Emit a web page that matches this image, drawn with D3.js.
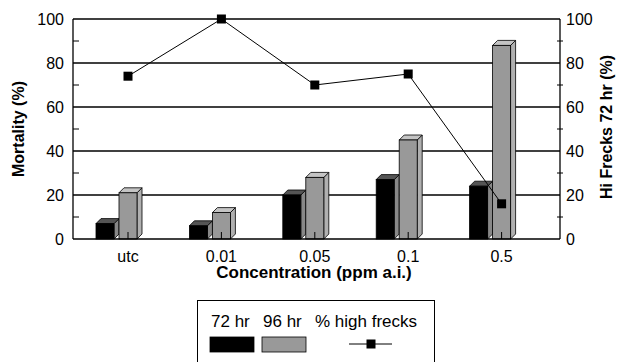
<!DOCTYPE html>
<html>
<head>
<meta charset="utf-8">
<script src="https://cdn.jsdelivr.net/npm/d3@7"></script>
<style>
  body { margin: 0; background: #fff; }
  text { font-family: "Liberation Sans", Arial, sans-serif; fill: #000; }
</style>
</head>
<body>
<div id="chart"></div>
<script>
var categories = ["utc", "0.01", "0.05", "0.1", "0.5"];
var mort72 = [7, 6, 20, 27, 24];
var mort96 = [21, 12, 28, 45, 88];
var highFrecks = [74, 100, 70, 75, 16];
var yTicks = [0, 20, 40, 60, 80, 100];
var yMinor = [10, 30, 50, 70, 90];

var width = 618, height = 362;
var plotLeft = 73, plotRight = 560, plotTop = 19, plotBottom = 239;
var depth = 5; // 3d offset of the columns

var svg = d3.select("#chart").append("svg")
    .attr("width", width)
    .attr("height", height);

var x = d3.scaleBand()
    .domain(categories)
    .range([plotLeft, 540]);

var y = d3.scaleLinear()
    .domain([0, 100])
    .range([plotBottom, plotTop]);

var barW = 18;
function x72(d, i) { return x(categories[i]) + 23; }
function x96(d, i) { return x(categories[i]) + 46; }
function xMid(d, i) { return x(categories[i]) + 55; }

// gridlines
svg.append("g")
    .selectAll("line")
    .data(yTicks.slice(1))
    .enter().append("line")
    .attr("x1", plotLeft)
    .attr("x2", plotRight)
    .attr("y1", function(d) { return y(d); })
    .attr("y2", function(d) { return y(d); })
    .style("stroke", "#000")
    .style("stroke-width", 1.3);

function drawBars(data, xf, front, topc, side) {
    var g = svg.append("g");
    var bars = g.selectAll("g").data(data).enter().append("g");
    bars.append("path")
        .attr("d", function(d, i) {
            var x0 = xf(d, i), y0 = y(d);
            return "M" + (x0 + barW) + "," + y0 + "L" + (x0 + barW + depth) + "," + (y0 - depth) +
                "L" + (x0 + barW + depth) + "," + (plotBottom - depth) + "L" + (x0 + barW) + "," + plotBottom + "Z";
        })
        .style("fill", side)
        .style("stroke", "#000")
        .style("stroke-width", 0.8);
    bars.append("path")
        .attr("d", function(d, i) {
            var x0 = xf(d, i), y0 = y(d);
            return "M" + x0 + "," + y0 + "L" + (x0 + depth) + "," + (y0 - depth) +
                "L" + (x0 + barW + depth) + "," + (y0 - depth) + "L" + (x0 + barW) + "," + y0 + "Z";
        })
        .style("fill", topc)
        .style("stroke", "#000")
        .style("stroke-width", 0.8);
    bars.append("rect")
        .attr("x", xf)
        .attr("y", function(d) { return y(d); })
        .attr("width", barW)
        .attr("height", function(d) { return plotBottom - y(d); })
        .style("fill", front)
        .style("stroke", "#000")
        .style("stroke-width", 0.8);
}

drawBars(mort72, x72, "#000", "#555", "#888");
drawBars(mort96, x96, "#999", "#c4c4c4", "#b0b0b0");

// small category ticks
svg.append("g")
    .selectAll("line")
    .data(categories)
    .enter().append("line")
    .attr("x1", function(d, i) { return xMid(d, i); })
    .attr("x2", function(d, i) { return xMid(d, i); })
    .attr("y1", plotBottom - 7)
    .attr("y2", plotBottom)
    .style("stroke", "#000")
    .style("stroke-width", 1);

// axes
svg.append("line").attr("x1", plotLeft).attr("x2", plotLeft).attr("y1", plotTop).attr("y2", plotBottom)
    .style("stroke", "#000").style("stroke-width", 1.3);
svg.append("line").attr("x1", plotRight).attr("x2", plotRight).attr("y1", plotTop).attr("y2", plotBottom)
    .style("stroke", "#000").style("stroke-width", 1.3);
svg.append("line").attr("x1", plotLeft).attr("x2", plotRight).attr("y1", plotBottom).attr("y2", plotBottom)
    .style("stroke", "#000").style("stroke-width", 1.5);

svg.append("g").selectAll("line").data(yMinor).enter().append("line")
    .attr("x1", plotLeft).attr("x2", plotLeft + 6)
    .attr("y1", function(d) { return y(d); }).attr("y2", function(d) { return y(d); })
    .style("stroke", "#000");
svg.append("g").selectAll("line").data(yMinor).enter().append("line")
    .attr("x1", plotRight - 3).attr("x2", plotRight + 3)
    .attr("y1", function(d) { return y(d); }).attr("y2", function(d) { return y(d); })
    .style("stroke", "#000");

svg.append("g").selectAll("text").data(yTicks).enter().append("text")
    .attr("x", plotLeft - 9)
    .attr("y", function(d) { return y(d); })
    .attr("dy", "0.35em")
    .attr("text-anchor", "end")
    .style("font-size", "16px")
    .text(function(d) { return d; });
svg.append("g").selectAll("text").data(yTicks).enter().append("text")
    .attr("x", plotRight + 6)
    .attr("y", function(d) { return y(d); })
    .attr("dy", "0.35em")
    .style("font-size", "16px")
    .text(function(d) { return d; });

svg.append("g").selectAll("text").data(categories).enter().append("text")
    .attr("x", function(d, i) { return xMid(d, i); })
    .attr("y", 256)
    .attr("dy", "0.35em")
    .attr("text-anchor", "middle")
    .style("font-size", "16px")
    .text(function(d) { return d; });

// line series
var line = d3.line()
    .x(function(d, i) { return xMid(d, i); })
    .y(function(d) { return y(d); });
svg.append("path")
    .datum(highFrecks)
    .attr("d", line)
    .style("fill", "none")
    .style("stroke", "#000")
    .style("stroke-width", 1);
svg.append("g").selectAll("rect").data(highFrecks).enter().append("rect")
    .attr("x", function(d, i) { return xMid(d, i) - 4.5; })
    .attr("y", function(d) { return y(d) - 4.5; })
    .attr("width", 9)
    .attr("height", 9)
    .style("fill", "#000");

// titles
svg.append("text")
    .attr("transform", "translate(24,129) rotate(-90)")
    .attr("text-anchor", "middle")
    .style("font-size", "16px")
    .style("font-weight", "bold")
    .text("Mortality (%)");
svg.append("text")
    .attr("transform", "translate(612,127) rotate(-90)")
    .attr("text-anchor", "middle")
    .style("font-size", "16px")
    .style("font-weight", "bold")
    .text("Hi Frecks 72 hr (%)");
svg.append("text")
    .attr("x", 314)
    .attr("y", 278)
    .attr("text-anchor", "middle")
    .style("font-size", "17px")
    .style("font-weight", "bold")
    .text("Concentration (ppm a.i.)");

// legend
var legend = svg.append("g");
legend.append("rect")
    .attr("x", 197.5).attr("y", 300.5)
    .attr("width", 237).attr("height", 70)
    .style("fill", "#fff")
    .style("stroke", "#000");
var legendItems = [
    { label: "72 hr", x: 211, fill: "#000" },
    { label: "96 hr", x: 263, fill: "#999" },
    { label: "% high frecks", x: 315, fill: null }
];
legend.selectAll("text").data(legendItems).enter().append("text")
    .attr("x", function(d) { return d.x; })
    .attr("y", 327)
    .style("font-size", "17px")
    .text(function(d) { return d.label; });
legend.selectAll("rect.sw").data(legendItems.filter(function(d) { return d.fill; }))
    .enter().append("rect")
    .attr("class", "sw")
    .attr("x", function(d) { return d.x - 1; })
    .attr("y", 337)
    .attr("width", 44)
    .attr("height", 15)
    .style("fill", function(d) { return d.fill; })
    .style("stroke", "#000")
    .style("stroke-width", 0.8);
legend.append("line")
    .attr("x1", 349).attr("x2", 392).attr("y1", 344).attr("y2", 344)
    .style("stroke", "#000");
legend.append("rect")
    .attr("x", 366.5).attr("y", 339.5).attr("width", 9).attr("height", 9)
    .style("fill", "#000");
</script>
</body>
</html>
